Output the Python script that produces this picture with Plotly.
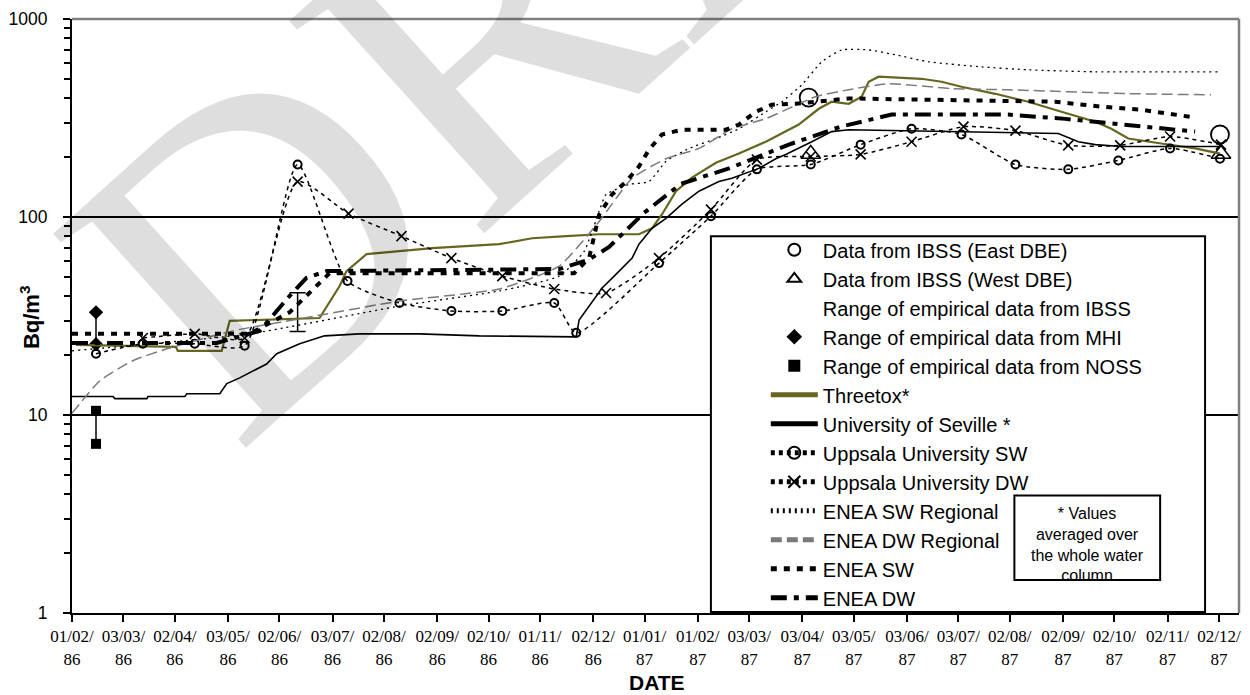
import pandas as pd
import plotly.graph_objects as go

# ---------------------------------------------------------------------------
# Data: elapsed days since 1 Feb 1986 and activity concentration (Bq/m3)
# ---------------------------------------------------------------------------
START = pd.Timestamp("1986-02-01")

tick_labels = ["01/02/86", "03/03/86", "02/04/86", "03/05/86", "02/06/86",
               "03/07/86", "02/08/86", "02/09/86", "02/10/86", "01/11/86",
               "02/12/86", "01/01/87", "01/02/87", "03/03/87", "03/04/87",
               "03/05/87", "03/06/87", "03/07/87", "02/08/87", "02/09/87",
               "02/10/87", "02/11/87", "02/12/87"]

# IBSS measurements
ibss_east_days = [429.7, 669.6]
ibss_east_vals = [401, 261]
ibss_west_days = [430.9, 670.2]
ibss_west_vals = [208, 208]

# empirical ranges
ibss_range_day = [131.6]
ibss_range_low = [26.4]
ibss_range_high = [41.5]
mhi_days = [14.0, 14.0]
mhi_vals = [33.0, 22.8]
noss_days = [14.0, 14.0]
noss_vals = [10.5, 7.15]

# model results
threetox_days = [2.3, 39.6, 60.6, 61.7, 87.3, 92.0, 144.4, 156.1, 160.1, 171.8,
                 202.6, 210.2, 249.2, 268.4, 288.2, 307.5, 330.7, 338.3, 344.1,
                 352.3, 361.6, 375.6, 389.0, 404.7, 423.9, 435.6, 443.1, 453.0,
                 460.6, 464.7, 470.5, 495.5, 507.2, 518.8, 538.6, 557.8, 577.1,
                 596.9, 606.2, 616.1, 635.3, 655.1, 669.6]
threetox_vals = [22.6, 22.4, 22.1, 21.1, 21.1, 29.9, 30.9, 44.8, 53.3, 64.9,
                 68.8, 69.6, 72.9, 78.1, 80.0, 81.8, 81.8, 87.7, 103, 135, 158,
                 188, 209, 240, 293, 352, 382, 373, 405, 482, 511, 499, 482,
                 455, 419, 382, 340, 303, 279, 249, 235, 222, 209]

seville_days = [0, 23.9, 25.0, 43.7, 44.3, 65.8, 67.0, 86.2, 90.3, 97.8, 113.5,
                119.4, 132.8, 144.4, 147.3, 167.7, 202.6, 237.6, 294.1, 295.8,
                303.4, 309.2, 317.4, 326.7, 330.7, 338.3, 346.5, 355.8, 365.7,
                377.3, 384.9, 400.6, 410.5, 416.3, 431.5, 443.1, 453.0, 575.3,
                587.0, 596.9, 612.0, 669.6]
seville_vals = [12.4, 12.4, 12.1, 12.1, 12.4, 12.4, 12.8, 12.8, 14.4, 15.4, 18.1,
                20.4, 22.9, 24.5, 25.1, 25.7, 25.7, 25.1, 24.8, 30.2, 37.6, 43.8,
                51.5, 62.0, 72.9, 87.7, 98.5, 116, 135, 151, 157, 176, 197, 207,
                240, 270, 276, 264, 240, 232, 227, 227]

uppsala_sw_days = [14.0, 41.3, 71.6, 100.7, 131.6, 160.7, 191.0, 221.3, 251.0,
                   281.3, 294.1, 342.4, 372.7, 399.5, 430.9, 460.0, 489.7,
                   518.8, 550.3, 581.1, 610.3, 640.5, 669.6]
uppsala_sw_vals = [20.4, 22.9, 22.9, 22.4, 184, 47.5, 36.8, 33.5, 33.5, 36.8,
                   26.0, 58.5, 101, 174, 184, 232, 279, 261, 184, 174, 193,
                   222, 197]

uppsala_dw_days = [41.3, 71.6, 100.7, 131.6, 161.3, 192.2, 221.3, 251.0, 281.3,
                   311.5, 342.4, 372.7, 399.5, 430.9, 460.0, 489.7, 520.0,
                   550.3, 581.1, 611.4, 640.5, 670.2]
uppsala_dw_vals = [24.5, 25.7, 24.5, 151, 104, 80, 62, 50.3, 43.3, 41.3, 62,
                   109, 195, 202, 207, 240, 286, 273, 230, 230, 255, 232]

enea_sw_reg_days = [0, 103.6, 191.0, 249.2, 284.2, 298.7, 307.5, 311.5, 324.9,
                    336.6, 346.5, 359.9, 375.6, 389.0, 404.7, 414.0, 425.7,
                    437.3, 449.0, 464.7, 480.4, 499.6, 530.5, 557.8, 596.9,
                    669.6]
enea_sw_reg_vals = [21.1, 25.7, 35.5, 42.3, 50.3, 67, 107, 130, 146, 151, 191,
                    222, 249, 279, 340, 382, 465, 608, 698, 698, 659, 608, 573,
                    554, 541, 541]

enea_dw_reg_days = [0, 16.3, 35.5, 55.3, 93.7, 132.8, 191.0, 249.2, 284.2,
                    307.5, 326.7, 346.5, 365.7, 384.9, 404.7, 433.8, 453.0,
                    476.3, 513.0, 546.2, 616.1, 664.4]
enea_dw_reg_vals = [10.2, 14.9, 18.8, 21.6, 26.6, 30.6, 37.6, 43.3, 56.5, 95,
                    157, 197, 222, 279, 314, 405, 439, 471, 445, 439, 420, 414]

enea_sw_days = [0, 103.6, 126.9, 150.2, 292.9, 301.6, 307.5, 315.0, 323.2,
                330.7, 336.6, 344.1, 355.8, 381.4, 389.0, 398.9, 408.2, 422.2,
                453.0, 482.2, 540.4, 573.6, 600.4, 623.6, 655.1]
enea_sw_vals = [25.7, 25.7, 33, 52, 52, 62, 103, 130, 151, 180, 219, 261, 276,
                276, 293, 340, 369, 373, 397, 393, 382, 382, 361, 348, 318]

enea_dw_days = [0, 84.4, 109.5, 126.9, 136.8, 148.5, 284.2, 301.6, 313.3,
                333.7, 355.2, 383.2, 418.1, 448.4, 478.1, 511.3, 546.2, 579.4,
                612.0, 655.1]
enea_dw_vals = [23.1, 23.1, 26.6, 39.9, 49.3, 53.3, 54.6, 61, 70.6, 105, 147,
                176, 232, 286, 329, 329, 329, 313, 293, 270]


def to_dates(days):
    return START + pd.to_timedelta(days, unit="D")


tick_vals = [pd.to_datetime(t, format="%d/%m/%y") for t in tick_labels]
tick_text = [t[:6] + "<br>" + t[6:] for t in tick_labels]

# ---------------------------------------------------------------------------
# Page geometry (pixels)
# ---------------------------------------------------------------------------
W, H = 1250, 695
PL, PR, PT, PB = 72, 1241, 17, 613


def px_x(x):
    return (x - PL) / (PR - PL)


def px_y(y):
    return (PB - y) / (PB - PT)


SANS = "Arial, Liberation Sans, sans-serif"
SERIF = "Times New Roman, Liberation Serif, serif"
OLIVE = "#66661f"

fig = go.Figure()

# --- measurements -----------------------------------------------------------
fig.add_trace(go.Scatter(
    x=to_dates(ibss_east_days), y=ibss_east_vals, mode="markers",
    name="Data from IBSS (East DBE)",
    marker=dict(symbol="circle-open", size=18, color="black",
                line=dict(width=1.8, color="black"))))
fig.add_trace(go.Scatter(
    x=to_dates(ibss_west_days), y=ibss_west_vals, mode="markers",
    name="Data from IBSS (West DBE)",
    marker=dict(symbol="triangle-up-open", size=17, color="black",
                line=dict(width=1.5, color="black"))))
fig.add_trace(go.Scatter(
    x=to_dates(ibss_range_day), y=ibss_range_low, mode="markers",
    name="Range of empirical data from IBSS",
    marker=dict(size=1, color="rgba(0,0,0,0)", line=dict(width=0)),
    error_y=dict(type="data", symmetric=False,
                 array=[h - l for h, l in zip(ibss_range_high, ibss_range_low)],
                 arrayminus=[0], color="black", thickness=1.5, width=8)))
fig.add_trace(go.Scatter(
    x=to_dates(mhi_days), y=mhi_vals, mode="markers",
    name="Range of empirical data from MHI",
    marker=dict(symbol="diamond", size=11, color="black"),
    error_y=dict(type="data", symmetric=False, array=[0, 0],
                 arrayminus=[mhi_vals[0] - mhi_vals[1], 0],
                 color="black", thickness=1.5, width=0)))
fig.add_trace(go.Scatter(
    x=to_dates(noss_days), y=noss_vals, mode="markers",
    name="Range of empirical data from NOSS",
    marker=dict(symbol="square", size=10, color="black"),
    error_y=dict(type="data", symmetric=False, array=[0, 0],
                 arrayminus=[noss_vals[0] - noss_vals[1], 0],
                 color="black", thickness=1.5, width=0)))

# --- model curves -------------------------------------------------------------
fig.add_trace(go.Scatter(
    x=to_dates(threetox_days), y=threetox_vals, mode="lines", name="Threetox*",
    line=dict(color=OLIVE, width=2.2)))
fig.add_trace(go.Scatter(
    x=to_dates(seville_days), y=seville_vals, mode="lines",
    name="University of Seville *", line=dict(color="black", width=1.6)))
fig.add_trace(go.Scatter(
    x=to_dates(uppsala_sw_days), y=uppsala_sw_vals, mode="lines+markers",
    name="Uppsala University SW",
    line=dict(color="black", width=1.5, dash="4px,4px", shape="spline",
              smoothing=0.6),
    marker=dict(symbol="circle-open", size=8, color="black",
                line=dict(width=2, color="black"))))
fig.add_trace(go.Scatter(
    x=to_dates(uppsala_dw_days), y=uppsala_dw_vals, mode="lines+markers",
    name="Uppsala University DW",
    line=dict(color="black", width=1.5, dash="4px,4px", shape="spline",
              smoothing=0.6),
    marker=dict(symbol="x-thin-open", size=10, color="black",
                line=dict(width=1.6, color="black"))))
fig.add_trace(go.Scatter(
    x=to_dates(enea_sw_reg_days), y=enea_sw_reg_vals, mode="lines",
    name="ENEA SW Regional",
    line=dict(color="black", width=1.3, dash="2px,4px", shape="spline",
              smoothing=0.5)))
fig.add_trace(go.Scatter(
    x=to_dates(enea_dw_reg_days), y=enea_dw_reg_vals, mode="lines",
    name="ENEA DW Regional",
    line=dict(color="#7a7a7a", width=1.5, dash="11px,5px", shape="spline",
              smoothing=0.5)))
fig.add_trace(go.Scatter(
    x=to_dates(enea_sw_days), y=enea_sw_vals, mode="lines", name="ENEA SW",
    line=dict(color="black", width=4, dash="6px,7px")))
fig.add_trace(go.Scatter(
    x=to_dates(enea_dw_days), y=enea_dw_vals, mode="lines", name="ENEA DW",
    line=dict(color="black", width=4, dash="16px,7px,5px,7px")))

# --- frame, legend box, note box ---------------------------------------------
shapes = [
    dict(type="rect", xref="paper", yref="paper", layer="above",
         x0=px_x(712), x1=px_x(1207), y0=px_y(612), y1=px_y(235),
         fillcolor="white", line=dict(color="black", width=2)),
    dict(type="rect", xref="paper", yref="paper", layer="above",
         x0=px_x(1016), x1=px_x(1162), y0=px_y(580), y1=px_y(495),
         fillcolor="white", line=dict(color="black", width=2)),
    dict(type="line", xref="paper", yref="paper", layer="above",
         x0=0, x1=1, y0=1, y1=1, line=dict(color="#808080", width=2.5)),
    dict(type="line", xref="paper", yref="paper", layer="above",
         x0=1, x1=1, y0=0, y1=1, line=dict(color="#808080", width=2.5)),
]

annotations = [
    # faint diagonal draft stamp across the page
    dict(text="DRAFT", xref="paper", yref="paper",
         x=px_x(674), y=px_y(-139), xanchor="center", yanchor="middle",
         textangle=-42, showarrow=False,
         font=dict(family=SERIF, size=440, color="rgba(0,0,0,0.13)")),
    dict(text="Bq/m<sup>3</sup>", xref="paper", yref="paper",
         x=px_x(30), y=px_y(316), xanchor="center", yanchor="middle",
         textangle=-90, showarrow=False,
         font=dict(family=SANS, size=22, color="black", weight="bold")),
    dict(text="DATE", xref="paper", yref="paper",
         x=px_x(658), y=px_y(683), xanchor="center", yanchor="middle",
         showarrow=False,
         font=dict(family=SANS, size=21, color="black", weight="bold")),
    dict(text="* Values<br>averaged over<br>the whole water<br>column",
         xref="paper", yref="paper", x=px_x(1089), y=px_y(544),
         xanchor="center", yanchor="middle",
         showarrow=False, align="center",
         font=dict(family=SANS, size=16, color="black")),
]

minor_vals = [m * 10 ** e for e in range(3) for m in range(2, 10)]

fig.update_layout(
    width=W, height=H,
    margin=dict(l=PL, r=W - PR, t=PT, b=H - PB, pad=0),
    paper_bgcolor="white", plot_bgcolor="white",
    showlegend=True,
    legend=dict(x=px_x(767), y=px_y(229), xanchor="left", yanchor="top",
                bgcolor="rgba(0,0,0,0)", borderwidth=0,
                font=dict(family=SANS, size=20, color="black"),
                itemwidth=47, itemsizing="constant", tracegroupgap=0),
    shapes=shapes, annotations=annotations,
    xaxis=dict(type="date", range=[START, START + pd.Timedelta(days=680.7)],
               tickvals=tick_vals, ticktext=tick_text,
               ticks="outside", ticklen=7, tickwidth=2, tickcolor="black",
               showline=True, linecolor="black", linewidth=2,
               showgrid=False, zeroline=False,
               tickfont=dict(family=SERIF, size=17, color="black")),
    yaxis=dict(type="log", range=[0, 3], tickvals=[1, 10, 100, 1000],
               ticktext=["1", "10", "100", "1000"],
               ticks="outside", ticklen=7, tickwidth=2, tickcolor="black",
               showline=True, linecolor="black", linewidth=2,
               showgrid=True, gridcolor="black", gridwidth=1.6,
               zeroline=False, ticklabelstandoff=12,
               minor=dict(tickvals=minor_vals, ticks="outside", ticklen=6,
                          tickwidth=2, tickcolor="black", showgrid=False),
               tickfont=dict(family=SANS, size=17.5, color="black")),
)

fig.write_html("out.html")
